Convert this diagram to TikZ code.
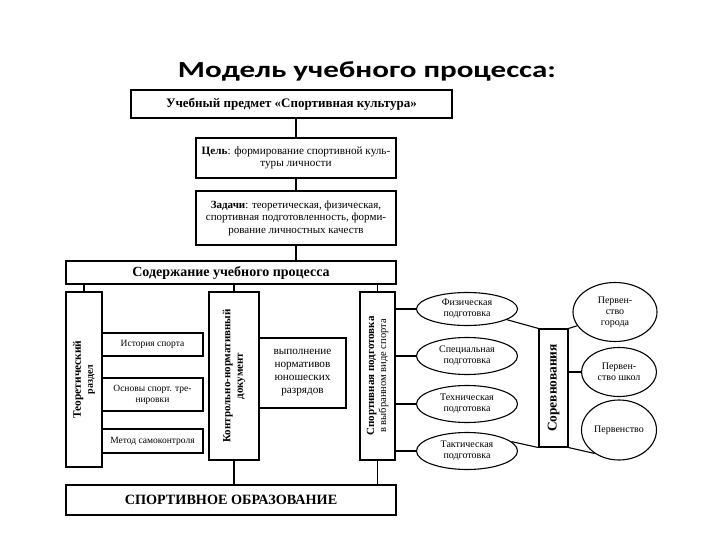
\documentclass[tikz,border=0pt]{standalone}
\usepackage{fontspec}
\setmainfont{Liberation Serif}
\newfontfamily\titlefont{Carlito}
\usetikzlibrary{shapes.geometric}
\tikzset{
  box/.style={draw, line width=1.1pt, inner sep=1pt, align=center, font=\fontsize{9.5}{11}\selectfont},
  oval/.style={draw, ellipse, line width=1.1pt, inner sep=0pt, align=center, font=\fontsize{10}{11}\selectfont},
  link/.style={line width=1.1pt},
  vtext/.style={rotate=90, align=center, inner sep=0pt}
}
\begin{document}
\begin{tikzpicture}[x=1pt,y=-1pt]
\useasboundingbox (0,0) rectangle (720,540);
% title
\node[anchor=base, xscale=1.35, transform shape, font=\titlefont\bfseries\fontsize{23}{26}\selectfont] (title) at (367,78) {Модель учебного процесса:};
% top chain
\node[box, minimum width=321, minimum height=28, font=\bfseries\fontsize{13}{14}\selectfont] (subj) at (291.5,104) {Учебный предмет «Спортивная культура»};
\node[box, minimum width=200, minimum height=40, font=\fontsize{11.2}{12.5}\selectfont] (goal) at (296,158) {\textbf{Цель}: формирование спортивной куль-\\туры личности};
\node[box, minimum width=200, minimum height=54, font=\fontsize{11}{12.5}\selectfont] (tasks) at (296,218) {\textbf{Задачи}: теоретическая, физическая,\\спортивная подготовленность, форми-\\рование личностных качеств};
\node[box, minimum width=330, minimum height=23, font=\bfseries\fontsize{14}{15}\selectfont] (content) at (231,272.5) {Содержание учебного процесса};
\draw[link] (goal.north) -- (goal.north |- subj.south);
\draw[link] (goal.south) -- (tasks.north);
\draw[link] (tasks.south) -- (tasks.south |- content.north);
% vertical boxes
\node[box, minimum width=36, minimum height=175] (teor) at (84,379.5) {};
\node[vtext, font=\bfseries\fontsize{11.4}{12}\selectfont] (teortxt) at (teor.center) {Теоретический\\{\fontsize{10}{11}\selectfont раздел}};
\node[box, minimum width=50, minimum height=168] (kontr) at (234,376) {};
\node[vtext, font=\bfseries\fontsize{11}{12.5}\selectfont] (kontrtxt) at (kontr.center) {Контрольно-нормативный\\документ};
\node[box, minimum width=35, minimum height=168] (sport) at (377.5,376) {};
\node[vtext] (sporttxt) at (sport.center) {{\bfseries\fontsize{11}{12}\selectfont Спортивная подготовка}\\{\fontsize{10.5}{11}\selectfont в выбранном виде спорта}};
\draw[link] (teor.north) -- (teor.north |- content.south);
\draw[link] (kontr.north) -- (kontr.north |- content.south);
\draw[link] (sport.north) -- (sport.north |- content.south);
% small boxes
\node[box, minimum width=101, minimum height=23] (hist) at (152.5,344.5) {История спорта};
\node[box, minimum width=101, minimum height=33] (osn) at (152.5,394.5) {Основы спорт. тре-\\нировки};
\node[box, minimum width=101, minimum height=24] (metod) at (152.5,441) {Метод самоконтроля};
\node[box, minimum width=87, minimum height=70, font=\fontsize{11.2}{13}\selectfont] (vyp) at (302.5,373) {выполнение\\нормативов\\юношеских\\разрядов};
% bottom
\node[box, minimum width=330, minimum height=30, font=\bfseries\fontsize{14.2}{15}\selectfont] (edu) at (231,500) {СПОРТИВНОЕ ОБРАЗОВАНИЕ};
\draw[link] (kontr.south) -- (kontr.south |- edu.north);
\draw[link] (sport.south) -- (sport.south |- edu.north);
% ellipses
\node[oval, minimum width=101, minimum height=33] (e1) at (467,309) {Физическая\\подготовка};
\node[oval, minimum width=101, minimum height=37] (e2) at (467,356) {Специальная\\подготовка};
\node[oval, minimum width=101, minimum height=37] (e3) at (467,404) {Техническая\\подготовка};
\node[oval, minimum width=101, minimum height=37] (e4) at (467,451) {Тактическая\\подготовка};
\draw[link] (e1.west) -- (e1.west -| sport.east);
\draw[link] (e2.west) -- (e2.west -| sport.east);
\draw[link] (e3.west) -- (e3.west -| sport.east);
\draw[link] (e4.west) -- (e4.west -| sport.east);
% competitions
\node[box, minimum width=29, minimum height=118] (sorev) at (553.5,388) {};
\node[vtext, font=\bfseries\fontsize{13.4}{14}\selectfont] (sorevtxt) at (sorev.center) {Соревнования};
\draw[link] (e1.-15) -- (sorev.north west);
\draw[link] (e4.12) -- (sorev.south west);
\node[oval, minimum width=84, minimum height=59] (g1) at (615,312) {Первен-\\ство\\города};
\node[oval, minimum width=75, minimum height=49] (g2) at (619,372) {Первен-\\ство школ};
\node[oval, minimum width=75, minimum height=60] (g3) at (619,430) {Первенство};
\draw[link] (sorev.north east) -- (g1.200);
\draw[link] (g2.west) -- (g2.west -| sorev.east);
\draw[link] (sorev.south east) -- (g3.224);
\end{tikzpicture}
\end{document}
